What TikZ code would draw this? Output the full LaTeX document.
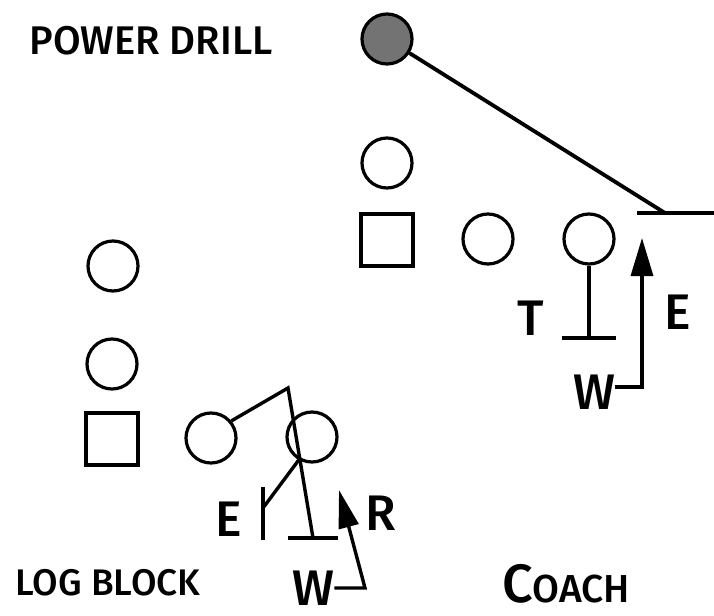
\documentclass[tikz,border=0pt]{standalone}
\usepackage{fontspec}
\setmainfont{Fira Sans}[UprightFont=* Medium]
\usetikzlibrary{arrows.meta}

\tikzset{
  player/.style={draw, circle, line width=1.6pt, minimum size=25pt, inner sep=0pt},
  center/.style={draw, rectangle, line width=1.6pt, minimum size=26pt, inner sep=0pt},
  route/.style={line width=1.7pt},
  letter/.style={font=\fontsize{25}{25}\selectfont, inner sep=0pt},
  title/.style={font=\fontsize{20}{20}\selectfont, inner sep=0pt}
}

\begin{document}
\begin{tikzpicture}[x=0.5pt,y=-0.5pt]
\useasboundingbox (0,0) rectangle (714,616);

\node[title] (drilltitle) at (151,41) {POWER DRILL};
\node[title, font=\fontsize{18.5}{18.5}\selectfont] (logtitle) at (108,583) {LOG BLOCK};
\node[inner sep=0pt] (coach) at (566,584) {{\fontsize{27}{27}\selectfont C}{\fontsize{19.5}{19.5}\selectfont OACH}};

% power drill
\node[player, fill=black!55] (drill) at (387,39) {};
\node[player] (tback) at (387,163) {};
\node[center] (tcenter) at (387,240) {};
\node[player] (tguard) at (488,239) {};
\node[player] (ttackle) at (589,239) {};

\coordinate (dend) at (665,213);
\coordinate (bleft) at (637,213);
\coordinate (bright) at (714,213);
\coordinate (tstop) at (589,338);
\coordinate (etip) at (642,238);

\draw[route, line width=1.9pt] (drill) -- (dend);
\draw[route] (bleft) -- (bright);
\draw[route] (ttackle) -- (tstop);
\draw[route] ([xshift=-13.5pt]tstop) -- ([xshift=13.5pt]tstop);

\node[letter] (tlabel) at (531,318) {T};
\node[letter] (elabel) at (678,312) {E};
\node[letter] (wlabel) at (594,392) {W};
\draw[route, -{Triangle[length=19pt,width=11pt]}] ([yshift=2.5pt]wlabel.east) -| (etip);

% log block
\node[player] (lback) at (113,266) {};
\node[player] (lfull) at (112,364) {};
\node[center] (lcenter) at (112,439) {};
\node[player] (lguard) at (211,438) {};
\node[player] (ltackle) at (312,437) {};

\coordinate (gturn) at (288,388);
\coordinate (gstop) at (313,538);
\coordinate (estop) at (263,508);
\coordinate (rtip) at (339,490);
\coordinate (rturn) at (365,588);

\draw[route] (lguard.40) -- (gturn) -- (gstop);
\draw[route] ([xshift=-12.5pt]gstop) -- ([xshift=12.5pt]gstop);
\draw[route] (ltackle.240) -- (estop);
\draw[route] (263,487) -- (263,540);

\node[letter] (elabel2) at (229,519) {E};
\node[letter] (rlabel) at (381,513) {R};
\node[letter] (wlabel2) at (313,588) {W};
\draw[route, -{Triangle[length=19pt,width=10pt]}] (wlabel2.east) -- (rturn) -- (rtip);

\end{tikzpicture}
\end{document}
